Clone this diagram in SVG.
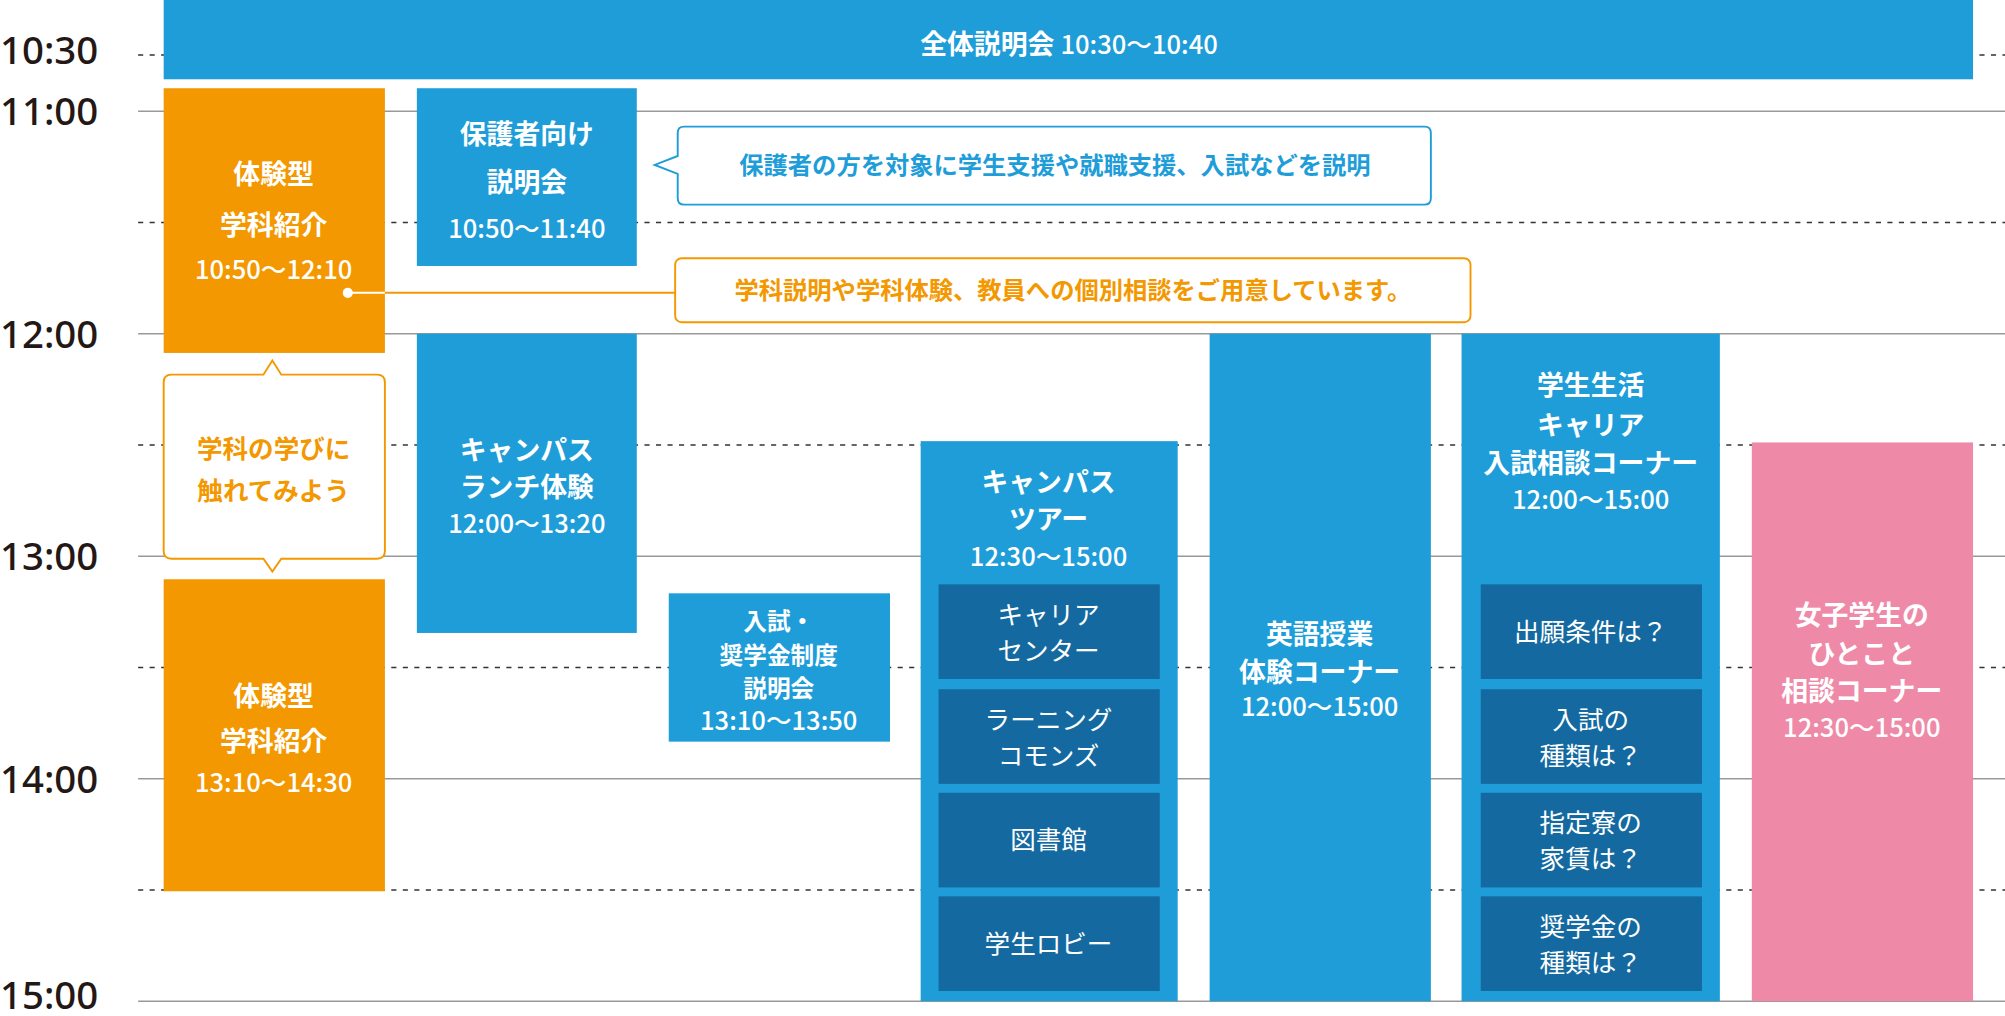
<svg xmlns="http://www.w3.org/2000/svg" width="2005" height="1016" viewBox="0 0 2005 1016">
<style>
text{font-family:"Noto Sans CJK JP","Noto Sans",sans-serif;text-anchor:middle}
.t{font-family:"Noto Sans","Noto Sans CJK JP",sans-serif;font-size:30px;font-weight:500;fill:#231815;text-anchor:start}
.w{fill:#fff;font-size:21px;font-weight:700}
.n{fill:#fff;font-size:18.5px;font-weight:700}
.tm{fill:#fff;font-size:20px;font-weight:500}
.s{fill:#fff;font-size:20px;font-weight:400}
.b{fill:#1e9dd9}.o{fill:#f39800}.d{fill:#146aa0}.p{fill:#ee8aa8}
.sol{stroke:#999;stroke-width:1.2}.das{stroke:#333;stroke-width:1.2;stroke-dasharray:4 5}
</style>
<rect width="2005" height="1016" fill="#fff"/>
<g transform="scale(1.2787)">
<g id="grid">
<line class="das" x1="108" y1="43" x2="1568" y2="43"/>
<line class="sol" x1="108" y1="87" x2="1568" y2="87"/>
<line class="das" x1="108" y1="174" x2="1568" y2="174"/>
<line class="sol" x1="108" y1="261" x2="1568" y2="261"/>
<line class="das" x1="108" y1="348" x2="1568" y2="348"/>
<line class="sol" x1="108" y1="435" x2="1568" y2="435"/>
<line class="das" x1="108" y1="522" x2="1568" y2="522"/>
<line class="sol" x1="108" y1="609" x2="1568" y2="609"/>
<line class="das" x1="108" y1="696" x2="1568" y2="696"/>
<line class="sol" x1="108" y1="783" x2="1568" y2="783"/>
<text class="t" x="0" y="50">10:30</text>
<text class="t" x="0" y="98">11:00</text>
<text class="t" x="0" y="272">12:00</text>
<text class="t" x="0" y="446">13:00</text>
<text class="t" x="0" y="620">14:00</text>
<text class="t" x="0" y="789">15:00</text>
</g>
<g id="all"><rect class="b" x="128" y="0" width="1415" height="62"/><text class="w" x="836" y="42">全体説明会 <tspan font-weight="500" font-size="20">10:30〜10:40</tspan></text></g>
<g id="taiken1"><rect class="o" x="128" y="69" width="173" height="207"/>
<text class="w" x="214" y="144">体験型</text><text class="w" x="214" y="184">学科紹介</text><text class="tm" x="214" y="218">10:50〜12:10</text></g>
<g id="hogosha"><rect class="b" x="326" y="69" width="172" height="139"/>
<text class="w" x="412" y="113">保護者向け</text><text class="w" x="412" y="150">説明会</text><text class="tm" x="412" y="186">10:50〜11:40</text></g>
<g id="connectors">
<line x1="301" y1="229" x2="528" y2="229" stroke="#f39800" stroke-width="1.5"/>
<line x1="272" y1="229" x2="301" y2="229" stroke="#fff" stroke-width="1.5"/>
<circle cx="272" cy="229" r="4" fill="#fff"/>
</g>
<g id="note2"><rect x="528" y="202" width="622" height="50" rx="5" fill="#fff" stroke="#f39800" stroke-width="1.5"/>
<text x="839" y="234" font-size="19" font-weight="700" fill="#f39800">学科説明や学科体験、教員への個別相談をご用意しています。</text></g>
<g id="note1"><path d="M535,99 H1114 Q1119,99 1119,104 V155 Q1119,160 1114,160 H535 Q530,160 530,155 V136 L512,129 L530,122 V104 Q530,99 535,99 Z" fill="#fff" stroke="#1e9dd9" stroke-width="1.5"/>
<text x="825" y="136" font-size="19" font-weight="700" fill="#1e9dd9">保護者の方を対象に学生支援や就職支援、入試などを説明</text></g>
<g id="bubble"><path d="M134,293 H206 L213,282 L220,293 H295 Q301,293 301,299 V431 Q301,437 295,437 H220 L213,447 L206,437 H134 Q128,437 128,431 V299 Q128,293 134,293 Z" fill="#fff" stroke="#f39800" stroke-width="1.5"/>
<text x="214" y="358" font-size="20" font-weight="700" fill="#f39800">学科の学びに</text><text x="214" y="391" font-size="20" font-weight="700" fill="#f39800">触れてみよう</text></g>
<g id="taiken2"><rect class="o" x="128" y="453" width="173" height="244"/>
<text class="w" x="214" y="552">体験型</text><text class="w" x="214" y="587">学科紹介</text><text class="tm" x="214" y="619">13:10〜14:30</text></g>
<g id="lunch"><rect class="b" x="326" y="261" width="172" height="234"/>
<text class="w" x="412" y="360">キャンパス</text><text class="w" x="412" y="389">ランチ体験</text><text class="tm" x="412" y="417">12:00〜13:20</text></g>
<g id="nyushi"><rect class="b" x="523" y="464" width="173" height="116"/>
<text class="n" x="609" y="493">入試・</text><text class="n" x="609" y="519">奨学金制度</text><text class="n" x="609" y="545">説明会</text><text class="tm" x="609" y="571">13:10〜13:50</text></g>
<g id="tour"><rect class="b" x="720" y="345" width="201" height="438"/>
<text class="w" x="820" y="385">キャンパス</text><text class="w" x="820" y="414">ツアー</text><text class="tm" x="820" y="443">12:30〜15:00</text>
<rect class="d" x="734" y="457" width="173" height="74"/><text class="s" x="820" y="488">キャリア</text><text class="s" x="820" y="516">センター</text>
<rect class="d" x="734" y="539" width="173" height="74"/><text class="s" x="820" y="570">ラーニング</text><text class="s" x="820" y="598">コモンズ</text>
<rect class="d" x="734" y="620" width="173" height="74"/><text class="s" x="820" y="664">図書館</text>
<rect class="d" x="734" y="701" width="173" height="74"/><text class="s" x="820" y="745">学生ロビー</text></g>
<g id="english"><rect class="b" x="946" y="261" width="173" height="522"/>
<text class="w" x="1032" y="504">英語授業</text><text class="w" x="1032" y="533">体験コーナー</text><text class="tm" x="1032" y="560">12:00〜15:00</text></g>
<g id="gakusei"><rect class="b" x="1143" y="261" width="202" height="522"/>
<text class="w" x="1244" y="309">学生生活</text><text class="w" x="1244" y="340">キャリア</text><text class="w" x="1244" y="370">入試相談コーナー</text><text class="tm" x="1244" y="398">12:00〜15:00</text>
<rect class="d" x="1158" y="457" width="173" height="74"/><text class="s" x="1244" y="501">出願条件は？</text>
<rect class="d" x="1158" y="539" width="173" height="74"/><text class="s" x="1244" y="570">入試の</text><text class="s" x="1244" y="598">種類は？</text>
<rect class="d" x="1158" y="620" width="173" height="74"/><text class="s" x="1244" y="651">指定寮の</text><text class="s" x="1244" y="679">家賃は？</text>
<rect class="d" x="1158" y="701" width="173" height="74"/><text class="s" x="1244" y="732">奨学金の</text><text class="s" x="1244" y="760">種類は？</text></g>
<g id="joshi"><rect class="p" x="1370" y="346" width="173" height="437"/>
<text class="w" x="1456" y="489">女子学生の</text><text class="w" x="1456" y="519">ひとこと</text><text class="w" x="1456" y="548">相談コーナー</text><text class="tm" x="1456" y="576">12:30〜15:00</text></g>
</g>
</svg>
